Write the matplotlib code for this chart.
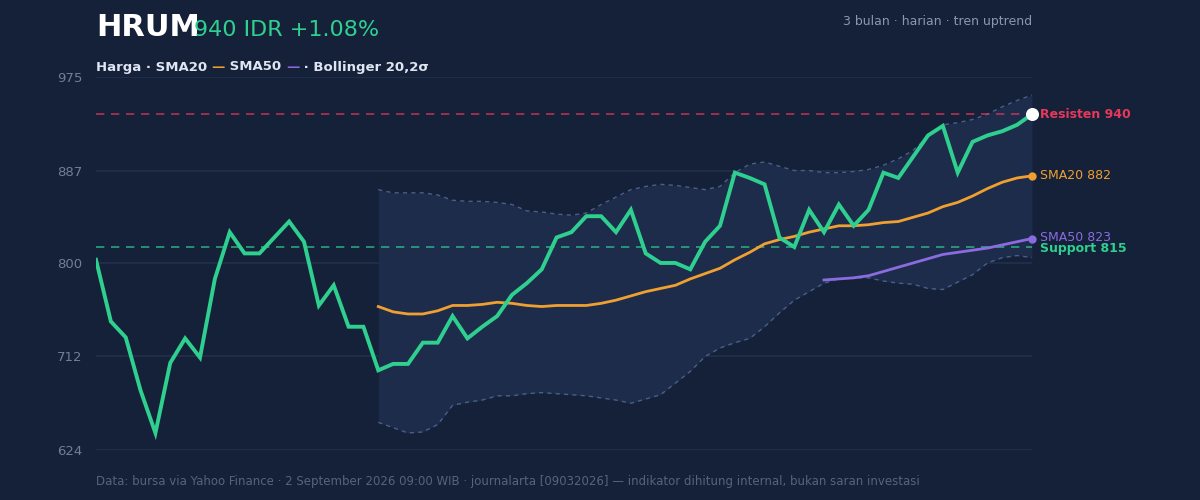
import matplotlib
matplotlib.use("Agg")
import matplotlib.pyplot as plt
import numpy as np

price = [803,745,730,680,640,706,729,711,785,829,809,809,824,839,820,760,779,740,740,699,
         705,705,725,725,750,729,740,750,770,781,794,824,829,844,844,829,850,809,800,800,
         794,820,835,885,880,874,824,815,850,829,855,835,850,885,880,900,920,929,885,914,
         920,924,930,940]
sma20 = [759,754,752,752,755,760,760,761,763,762,760,759,760,760,760,762,765,769,773,776,
         779,785,790,795,803,810,818,822,825,829,832,835,835,836,838,839,843,847,853,857,
         863,870,876,880,882]
sma50 = [784,785,786,788,792,796,800,804,808,810,812,814,817,820,823]
bb_up = [869,866,866,866,864,859,858,858,857,855,849,848,846,845,847,855,862,869,872,874,
         873,871,869,872,885,893,895,891,887,887,885,885,886,888,892,898,906,919,930,932,
         935,940,947,953,958]
bb_lo = [650,645,640,641,648,666,669,671,675,675,677,678,677,676,675,673,671,668,672,676,
         687,698,712,720,725,729,740,753,765,773,781,785,786,786,783,781,780,776,775,782,
         789,800,805,807,805]
resist = 940
support = 815
yticks = [624, 712, 800, 887, 975]

BG = "#152039"
GREEN = "#2fd08f"
ORANGE = "#f0a030"
PURPLE = "#8a6be0"
RED = "#e8385a"
GRID = "#22304d"
MUTED = "#6f7f99"

n = len(price)
x = np.arange(n)
x20 = np.arange(n - len(sma20), n)
x50 = np.arange(n - len(sma50), n)

fig = plt.figure(figsize=(12, 5), dpi=100, facecolor=BG)
ax = fig.add_axes([0.08, 0.1, 0.78, 0.746], facecolor=BG)
ax.set_xlim(0, n - 1)
ax.set_ylim(624, 975)
for s in ax.spines.values():
    s.set_visible(False)
ax.set_xticks([])
ax.set_yticks(yticks)
ax.set_yticklabels([str(v) for v in yticks], color=MUTED, fontsize=9.5)
ax.tick_params(axis="y", length=0, pad=10)
for v in yticks:
    ax.axhline(v, color=GRID, lw=1.2, zorder=0)

ax.fill_between(x20, bb_lo, bb_up, color="#1d2c4a", zorder=1, lw=0)
ax.plot(x20, bb_up, color="#4a5f88", lw=1, ls=(0, (3, 3)), zorder=2)
ax.plot(x20, bb_lo, color="#4a5f88", lw=1, ls=(0, (3, 3)), zorder=2)
ax.axhline(resist, color=RED, lw=1.2, ls=(0, (5, 4)), alpha=0.75, zorder=2)
ax.axhline(support, color=GREEN, lw=1.2, ls=(0, (5, 4)), alpha=0.75, zorder=2)
ax.plot(x20, sma20, color=ORANGE, lw=2, zorder=3)
ax.plot(x50, sma50, color=PURPLE, lw=2, zorder=3)
ax.plot(x, price, color=GREEN, lw=2.8, zorder=4, solid_joinstyle="miter")
ax.scatter([n - 1], [price[-1]], s=70, color="white", zorder=6, clip_on=False)
ax.scatter([n - 1], [sma20[-1]], s=25, color=ORANGE, zorder=5, clip_on=False)
ax.scatter([n - 1], [sma50[-1]], s=25, color=PURPLE, zorder=5, clip_on=False)

tr = ax.get_yaxis_transform()
ax.text(1.009, resist, f"Resisten {resist}", transform=tr, color=RED, fontsize=9, fontweight="bold", va="center")
ax.text(1.009, sma20[-1], f"SMA20 {sma20[-1]}", transform=tr, color=ORANGE, fontsize=9, va="center")
ax.text(1.009, sma50[-1] + 1, f"SMA50 {sma50[-1]}", transform=tr, color=PURPLE, fontsize=9, va="center")
ax.text(1.009, support - 1, f"Support {support}", transform=tr, color=GREEN, fontsize=9, fontweight="bold", va="center")

fig.text(96/1200, 1 - 28/500, "HRUM", color="white", fontsize=22, fontweight="bold", va="center")
fig.text(194/1200, 1 - 30/500, "940 IDR +1.08%", color=GREEN, fontsize=16, va="center")
fig.text(1032/1200, 1 - 21/500, "3 bulan · harian · tren uptrend", color="#8a97ad", fontsize=9, ha="right", va="center")

# legend line
ly = 1 - 67/500
parts = [("Harga · SMA20 ", "#dfe6f2"), ("—", ORANGE), (" SMA50 ", "#dfe6f2"), ("—", PURPLE), (" · Bollinger 20,2σ", "#dfe6f2")]
fig.canvas.draw()
r = fig.canvas.get_renderer()
xp = 96
for txt, col in parts:
    t = fig.text(xp/1200, ly, txt, color=col, fontsize=9.5, fontweight="bold", va="center")
    xp += t.get_window_extent(r).width

fig.text(96/1200, 1 - 481/500,
         "Data: bursa via Yahoo Finance · 2 September 2026 09:00 WIB · journalarta [09032026] — indikator dihitung internal, bukan saran investasi",
         color="#55647e", fontsize=8.5, va="center")

fig.savefig("out.png", dpi=100, facecolor=BG)
